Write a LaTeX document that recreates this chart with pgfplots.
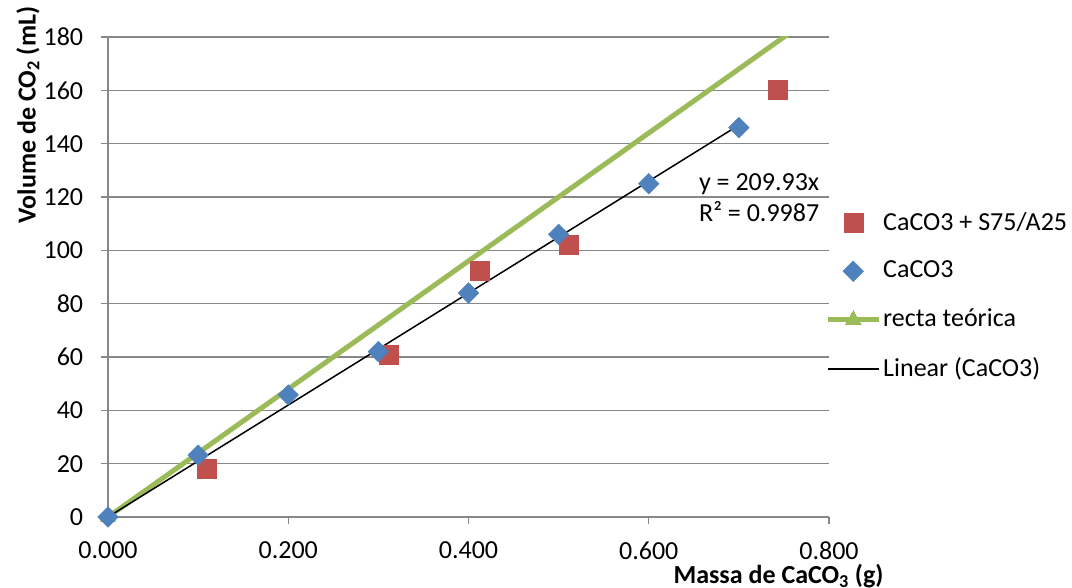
\documentclass[border=0pt]{standalone}
\usepackage{fontspec}
\setmainfont{Carlito}
\usepackage{pgfplots}
\pgfplotsset{compat=1.18}
\definecolor{cred}{HTML}{C0504D}
\definecolor{cblue}{HTML}{4F81BD}
\definecolor{cgreen}{HTML}{9BBB59}
\definecolor{cgrid}{HTML}{888888}
\pgfplotsset{myleg/.style={legend image code/.code={\draw[mark repeat=2,mark phase=2,##1] plot coordinates {(0pt,0pt) (25.5pt,0pt) (51pt,0pt)};}}}
\begin{document}
\fontsize{26}{31}\selectfont
\begin{tikzpicture}
\useasboundingbox (-108pt,-70pt) rectangle (964pt,517pt);
\begin{axis}[
  at={(0,0)}, anchor=south west,
  scale only axis, width=721pt, height=480pt,
  xmin=0, xmax=0.8, ymin=0, ymax=180,
  xtick distance=0.2, ytick distance=20,
  axis x line=bottom, axis y line=left,
  axis line style={-, cgrid, line width=1.3pt},
  tick style={cgrid, line width=1.3pt},
  major tick length=7pt, tick align=outside,
  ymajorgrids, major grid style={cgrid, line width=1.3pt},
  /pgf/number format/assume math mode=true,
  xticklabel style={yshift=-9pt, /pgf/number format/.cd, fixed, fixed zerofill, precision=3},
  yticklabel style={xshift=-9pt},
  tick label style={font=\fontsize{26}{31}\selectfont},
  xlabel={\textbf{Massa de CaCO\textsubscript{3} (g)}},
  ylabel={\textbf{Volume de CO\textsubscript{2} (mL)}},
  xlabel style={at={(axis description cs:0.93,-0.123)}, anchor=center},
  ylabel style={at={(axis description cs:-0.111,0.8375)}, anchor=center},
  legend style={at={(axis description cs:0.9945,0.4600)}, anchor=west, draw=none, fill=none,
    inner sep=0pt, row sep=23pt, font=\fontsize{26}{31}\selectfont,
    /tikz/every even column/.append style={column sep=6pt}},
  legend cell align=left,
  myleg,
]
\addplot[forget plot, cgreen, line width=5pt, mark=triangle*, mark indices={1}, mark size=9pt, mark options={line width=0pt}] coordinates {(0,0) (0.8,192)};
\addplot[only marks, mark=square*, mark size=9.5pt, color=cred, myleg] coordinates {
(0.110,18) (0.311,60.8) (0.412,92.2) (0.511,102) (0.743,160.1)};
\addlegendentry{CaCO3 + S75/A25}
\addplot[only marks, mark=square*, mark size=7.3pt, mark options={rotate=45}, color=cblue, myleg] coordinates {
(0,0) (0.1,23.2) (0.2,45.8) (0.3,62) (0.4,84) (0.5,106) (0.6,125) (0.7,146)};
\addlegendentry{CaCO3}
\addlegendimage{cgreen, line width=5pt, mark=triangle*, mark size=9pt, mark options={line width=0pt}}
\addlegendentry{recta teórica}
\addplot[black, line width=1.5pt, myleg] coordinates {(0,0) (0.7,146.951)};
\addlegendentry{Linear (CaCO3)}
\node[align=right, anchor=east, font=\fontsize{26}{31}\selectfont] at (axis cs:0.799,119.6) {y = 209.93x\\R² = 0.9987};
\end{axis}
\end{tikzpicture}
\end{document}
